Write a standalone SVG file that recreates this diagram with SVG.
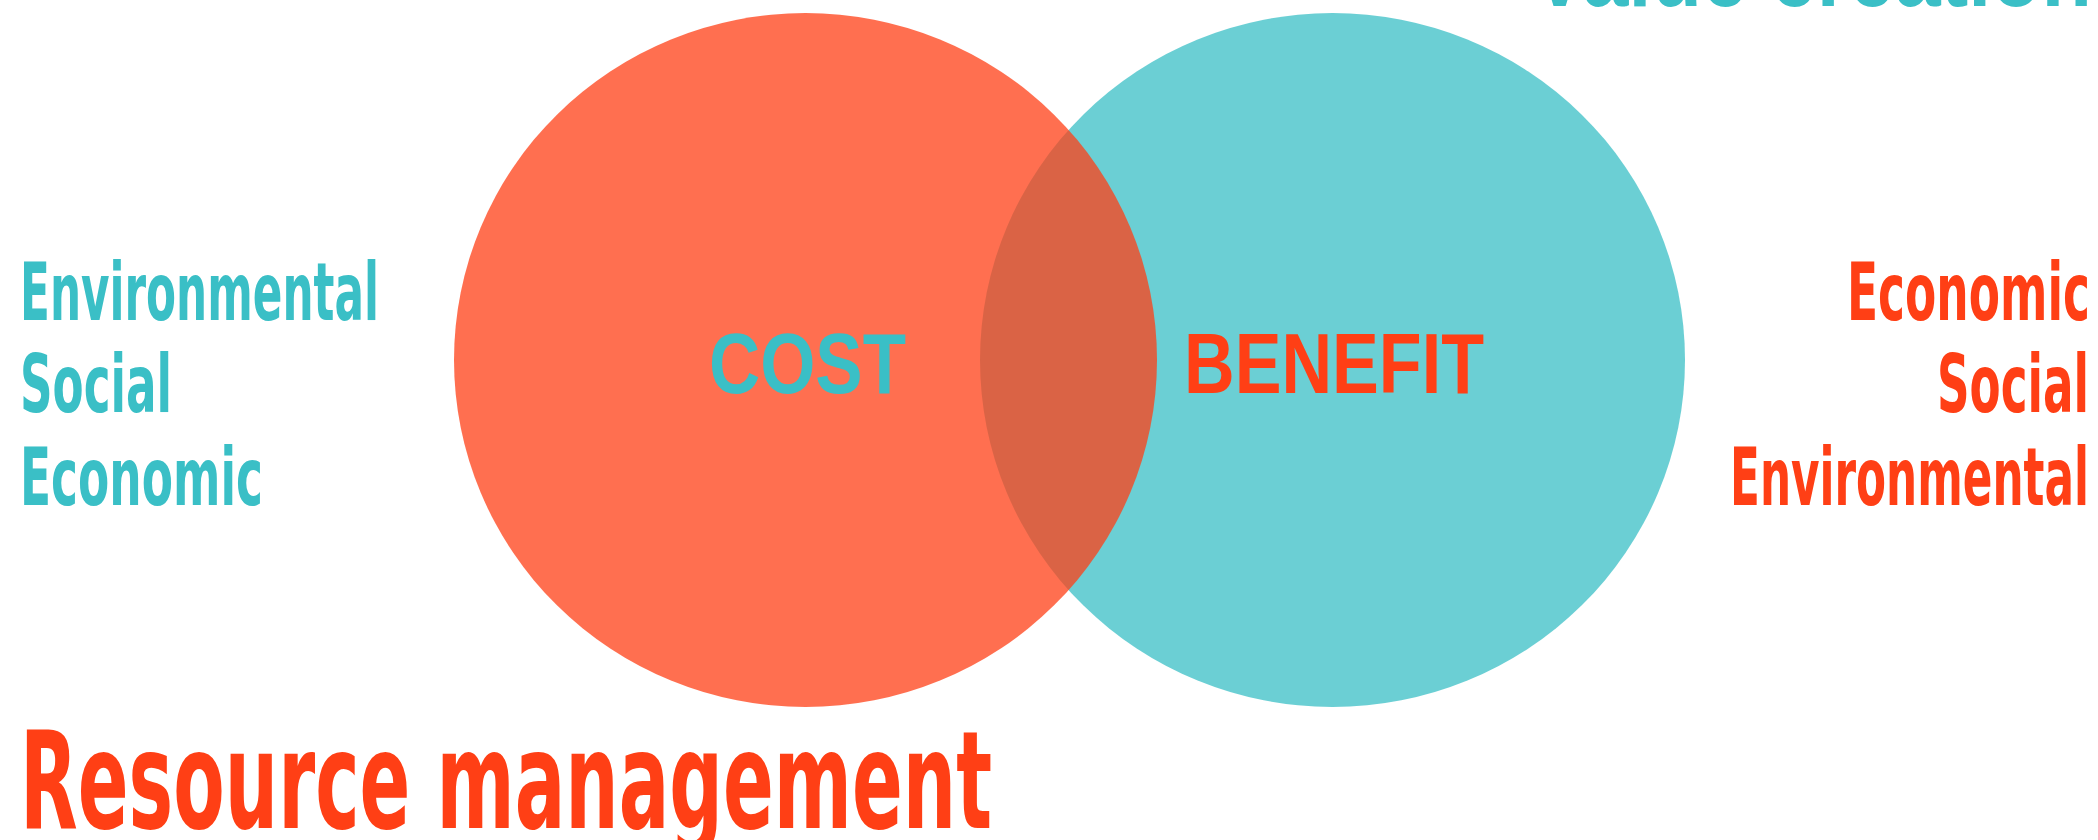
<svg xmlns="http://www.w3.org/2000/svg" width="2098" height="840" viewBox="0 0 2098 840">
  <style>
    .lbl { font-family: "Liberation Sans Narrow", "Liberation Sans", "DejaVu Sans Condensed", sans-serif; font-weight: bold; }
    .cond { font-family: "DejaVu Sans Condensed", "DejaVu Sans", "Liberation Sans Narrow", sans-serif; font-weight: bold; }
    .cyan { fill: #3ABFC6; }
    .red { fill: #FF3F15; }
    .side { font-size: 81px; }
    .mid { font-size: 86px; }
  </style>
  <rect x="0" y="0" width="2098" height="840" fill="#FFFFFF"/>
  <g id="title-value-creation">
    <text class="lbl cyan" x="1532" y="6" font-size="99" textLength="560" lengthAdjust="spacingAndGlyphs">Value creation</text>
  </g>
  <g id="benefit">
    <ellipse cx="1332.5" cy="360" rx="352.5" ry="347" fill="#3ABFC6" fill-opacity="0.75"/>
    <text class="lbl red mid" x="1184" y="393" textLength="300" lengthAdjust="spacingAndGlyphs">BENEFIT</text>
  </g>
  <g id="cost">
    <ellipse cx="805.5" cy="360" rx="351.5" ry="347" fill="#FF3F15" fill-opacity="0.75"/>
    <text class="lbl cyan mid" x="709" y="393" textLength="197" lengthAdjust="spacingAndGlyphs">COST</text>
  </g>
  <g id="cost-dimensions">
    <text class="cond cyan side" x="20" y="320" textLength="359" lengthAdjust="spacingAndGlyphs">Environmental</text>
    <text class="cond cyan side" x="20" y="412" textLength="152" lengthAdjust="spacingAndGlyphs">Social</text>
    <text class="cond cyan side" x="20" y="505" textLength="243" lengthAdjust="spacingAndGlyphs">Economic</text>
  </g>
  <g id="benefit-dimensions">
    <text class="cond red side" x="1847" y="320" textLength="243" lengthAdjust="spacingAndGlyphs">Economic</text>
    <text class="cond red side" x="1937" y="412" textLength="152" lengthAdjust="spacingAndGlyphs">Social</text>
    <text class="cond red side" x="1730" y="505" textLength="359" lengthAdjust="spacingAndGlyphs">Environmental</text>
  </g>
  <g id="title-resource-management">
    <text class="cond red" x="20" y="828" font-size="136" textLength="972" lengthAdjust="spacingAndGlyphs">Resource management</text>
  </g>
  <g id="connectors"/>
</svg>
